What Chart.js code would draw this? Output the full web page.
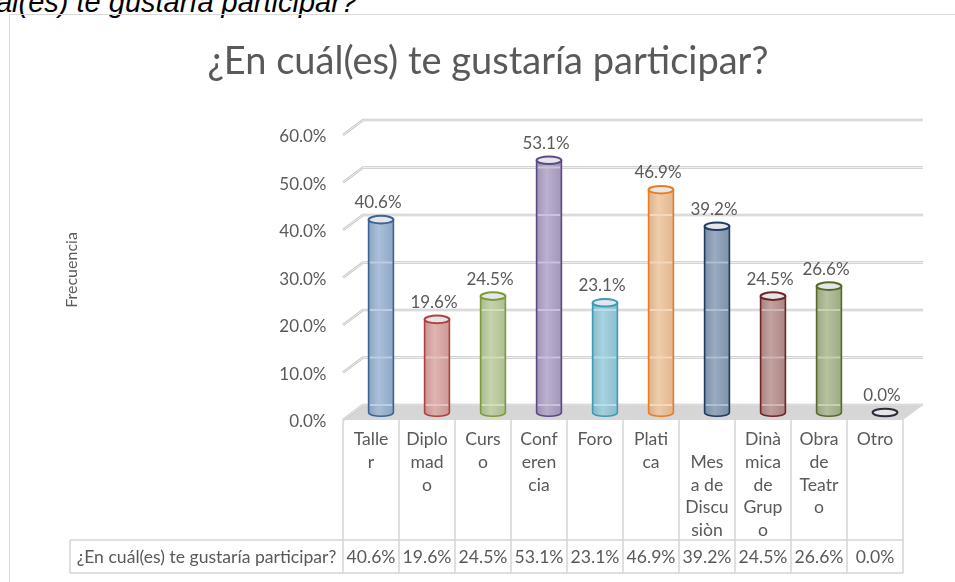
<!DOCTYPE html>
<html><head><meta charset="utf-8">
<script src="https://cdn.jsdelivr.net/npm/chart.js@4.4.1/dist/chart.umd.min.js"></script>
<style>
html,body{margin:0;padding:0;width:955px;height:582px;overflow:hidden;background:#fff;}
#doc{position:absolute;right:598px;top:-12.5px;font:italic 29px/29px "Liberation Sans",Arial,sans-serif;white-space:nowrap;color:#000;}
#frame{position:absolute;left:9px;top:14px;width:1100px;height:700px;border:1.5px solid #d9d9d9;box-sizing:border-box;}
#c{position:absolute;left:0;top:0;}
</style></head>
<body>
<div id="doc">¿En cuál(es) te gustaría participar?</div>
<div id="frame"></div>
<canvas id="c" width="955" height="582"></canvas>
<script>
const chartTitle = "¿En cuál(es) te gustaría participar?";
const seriesName = "¿En cuál(es) te gustaría participar?";
const axisTitle = "Frecuencia";
const categories = ["Taller","Diplomado","Curso","Conferencia","Foro","Platica","Mesa de Discusiòn","Dinàmica de Grupo","Obra de Teatro","Otro"];
const categoryLines = [["Talle","r"],["Diplo","mad","o"],["Curs","o"],["Conf","eren","cia"],["Foro"],["Plati","ca"],["","Mes","a de","Discu","siòn"],["Dinà","mica","de","Grup","o"],["Obra","de","Teatr","o"],["Otro"]];
const values = [40.6,19.6,24.5,53.1,23.1,46.9,39.2,24.5,26.6,0.0];
const yTicks = [0,10,20,30,40,50,60];

const fills = ['#87a5cb','#d39491','#aec289','#9f90bb','#82c2d3','#ebb887','#7189a8','#aa7b7a','#97a979','#9a9aa8'];
const borders = ['#3d6394','#b0413e','#7c9c37','#5c4985','#3c9bb5','#ec7d1e','#213a5e','#6f2524','#566b29','#2b2b38'];
const TXT = '#595959';
const FONT = 'Lato';

function hexRgb(h){const n=parseInt(h.slice(1),16);return [(n>>16)&255,(n>>8)&255,n&255];}
function mix(h,t,a){const c=hexRgb(h),d=hexRgb(t);return 'rgb('+c.map((v,i)=>Math.round(v+(d[i]-v)*a)).join(',')+')';}

const threeD = {
  id:'threeD',
  beforeDatasetsDraw(chart){
    const {ctx, chartArea:{left,right}, scales:{y}} = chart;
    const dx=20, dz=7.5;
    ctx.save();
    const b=y.getPixelForValue(0);
    ctx.fillStyle='#d6d6d6';
    ctx.beginPath();ctx.moveTo(left,b+dz);ctx.lineTo(left+dx,b-dz);ctx.lineTo(right+dx,b-dz);ctx.lineTo(right,b+dz);ctx.closePath();ctx.fill();
    yTicks.forEach(v=>{
      const yy=y.getPixelForValue(v);
      ctx.beginPath();ctx.moveTo(left,yy+dz);ctx.lineTo(left+dx,yy-dz);ctx.lineTo(right+dx,yy-dz);
      ctx.lineJoin='round';
      ctx.strokeStyle='#c6c6c6';ctx.lineWidth=2.6;ctx.stroke();
      ctx.strokeStyle='#f4f4f4';ctx.lineWidth=0.9;ctx.stroke();
    });
    ctx.restore();
  },
  afterDatasetsDraw(chart){
    const {ctx, chartArea:{left,right}, scales:{x,y}} = chart;
    const meta=chart.getDatasetMeta(0);
    const dx=10, rx=12.4, ry=3.8;
    ctx.save();
    // chart title
    ctx.fillStyle=TXT;ctx.font='38px '+FONT;ctx.textAlign='center';ctx.textBaseline='middle';
    ctx.fillText(chartTitle,488,62);
    meta.data.forEach((el,i)=>{
      const cx=el.x+dx, top=el.y, base=el.base;
      if(base-top>0.5){
        const g=ctx.createLinearGradient(cx-rx,0,cx+rx,0);
        g.addColorStop(0,mix(fills[i],'#606060',0.15));
        g.addColorStop(0.4,mix(fills[i],'#ffffff',0.22));
        g.addColorStop(1,mix(fills[i],'#606060',0.1));
        ctx.globalAlpha=0.9;
        ctx.beginPath();ctx.moveTo(cx-rx,top);ctx.lineTo(cx-rx,base);
        ctx.ellipse(cx,base,rx,ry,0,Math.PI,0,true);
        ctx.lineTo(cx+rx,top);
        ctx.ellipse(cx,top,rx,ry,0,0,Math.PI,true);
        ctx.closePath();ctx.fillStyle=g;ctx.fill();
        ctx.globalAlpha=1;
        yTicks.forEach(v=>{const yy=y.getPixelForValue(v)-7.5; if(yy>top+2&&yy<base-2){ctx.strokeStyle=mix(fills[i],'#ffffff',0.45);ctx.lineWidth=2;ctx.beginPath();ctx.moveTo(cx-rx+1,yy);ctx.lineTo(cx+rx-1,yy);ctx.stroke();}});
        ctx.strokeStyle=borders[i];ctx.lineWidth=1.6;
        ctx.beginPath();ctx.moveTo(cx-rx,top);ctx.lineTo(cx-rx,base);
        ctx.ellipse(cx,base,rx,ry,0,Math.PI,0,true);
        ctx.lineTo(cx+rx,top);ctx.stroke();
      }
      ctx.beginPath();ctx.ellipse(cx,top,rx,ry,0,0,Math.PI*2);
      ctx.fillStyle='#e6e6ea';ctx.fill();
      ctx.strokeStyle=borders[i];ctx.lineWidth=2;ctx.stroke();
      ctx.fillStyle=TXT;ctx.font='17px '+FONT;ctx.textAlign='center';ctx.textBaseline='middle';
      ctx.fillText(values[i].toFixed(1)+'%',cx-3,top-17);
    });
    // data table
    const b=y.getPixelForValue(0)+7.5;
    const w=(right-left)/categories.length;
    const rowTop=540, rowBot=573, cellLeft=70;
    ctx.strokeStyle='#d4d4d4';ctx.lineWidth=1.5;
    for(let k=0;k<=categories.length;k++){
      const xx=left+k*w;
      ctx.beginPath();ctx.moveTo(xx,b);ctx.lineTo(xx,rowBot);ctx.stroke();
    }
    ctx.beginPath();ctx.moveTo(cellLeft,rowTop);ctx.lineTo(right,rowTop);ctx.stroke();
    ctx.beginPath();ctx.moveTo(cellLeft,rowBot);ctx.lineTo(right,rowBot);ctx.stroke();
    ctx.beginPath();ctx.moveTo(cellLeft,rowTop);ctx.lineTo(cellLeft,rowBot);ctx.stroke();
    ctx.fillStyle=TXT;ctx.font='17.6px '+FONT;ctx.textAlign='center';ctx.textBaseline='middle';
    categoryLines.forEach((lines,i)=>{
      const cx=x.getPixelForValue(i);
      lines.forEach((t,j)=>ctx.fillText(t,cx,439.5+j*22.7));
      ctx.fillText(values[i].toFixed(1)+'%',cx,557);
    });
    ctx.fillText(seriesName,(cellLeft+left)/2,557);
    ctx.restore();
  }
};

function draw(){
new Chart(document.getElementById('c'),{
  type:'bar',
  data:{labels:categories,datasets:[{label:seriesName,data:values,backgroundColor:'rgba(0,0,0,0)',borderWidth:0}]},
  options:{
    responsive:false,animation:false,
    layout:{padding:{left:55,right:52,top:127.5,bottom:0}},
    plugins:{legend:{display:false},tooltip:{enabled:false},title:{display:false}},
    scales:{
      x:{display:true,grid:{display:false},border:{display:false},ticks:{display:false},afterFit(s){s.height=169.5;}},
      y:{min:0,max:60,grid:{display:false,drawTicks:false},border:{display:false},
         ticks:{stepSize:10,padding:16.5,labelOffset:9.5,color:TXT,font:{family:FONT,size:17},callback:v=>Number(v).toFixed(1)+'%'},
         title:{display:true,text:axisTitle,color:TXT,font:{family:FONT,size:16},padding:{top:7,bottom:0}},
         afterFit(s){s.width=288;}}
    }
  },
  plugins:[threeD]
});
}
if(document.fonts&&document.fonts.load){Promise.all([document.fonts.load('16px Lato'),document.fonts.load('italic 20px "Liberation Sans"')]).then(draw,draw);}else draw();
</script>
</body></html>
